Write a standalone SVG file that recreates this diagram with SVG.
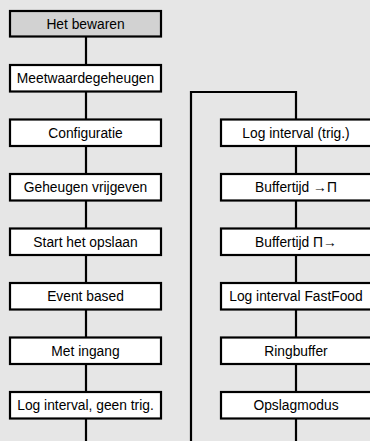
<svg xmlns="http://www.w3.org/2000/svg" width="370" height="441" viewBox="0 0 370 441">
<style>
.n rect{fill:#fff;stroke:#000;stroke-width:2.2}
.n text{font-family:"Liberation Sans",Arial,sans-serif;font-size:13.8px;text-anchor:middle;fill:#000}
.c path{fill:none;stroke:#000;stroke-width:2.2}
</style>
<rect width="370" height="441" fill="#e6e6e6"/>
<g class="c" id="connectors">
<path d="M86 37 V441"/>
<path d="M191 441 V92 H296 V441"/>
</g>
<g class="n" id="n1"><rect x="10" y="11" width="151" height="25.5" style="fill:#d2d2d2"/><text x="85.5" y="28.8">Het bewaren</text></g>
<g class="n" id="n2"><rect x="10" y="65" width="151" height="26.5"/><text x="85.5" y="83.3">Meetwaardegeheugen</text></g>
<g class="n" id="n3"><rect x="10" y="119.5" width="151" height="26.5"/><text x="85.5" y="137.8">Configuratie</text></g>
<g class="n" id="n4"><rect x="10" y="174" width="151" height="26.5"/><text x="85.5" y="192.3">Geheugen vrijgeven</text></g>
<g class="n" id="n5"><rect x="10" y="228.5" width="151" height="26.5"/><text x="85.5" y="246.8">Start het opslaan</text></g>
<g class="n" id="n6"><rect x="10" y="283" width="151" height="26.5"/><text x="85.5" y="301.3">Event based</text></g>
<g class="n" id="n7"><rect x="10" y="337.5" width="151" height="26.5"/><text x="85.5" y="355.8">Met ingang</text></g>
<g class="n" id="n8"><rect x="10" y="392" width="151" height="26.5"/><text x="85.5" y="410.3">Log interval, geen trig.</text></g>
<g class="n" id="r1"><rect x="221" y="119.5" width="152" height="26.5"/><text x="296" y="137.8">Log interval (trig.)</text></g>
<g class="n" id="r2"><rect x="221" y="174" width="152" height="26.5"/><text x="296" y="192.3">Buffertijd →Π</text></g>
<g class="n" id="r3"><rect x="221" y="228.5" width="152" height="26.5"/><text x="296" y="246.8">Buffertijd Π→</text></g>
<g class="n" id="r4"><rect x="221" y="283" width="152" height="26.5"/><text x="296" y="301.3">Log interval FastFood</text></g>
<g class="n" id="r5"><rect x="221" y="337.5" width="152" height="26.5"/><text x="296" y="355.8">Ringbuffer</text></g>
<g class="n" id="r6"><rect x="221" y="392" width="152" height="26.5"/><text x="296" y="410.3">Opslagmodus</text></g>
</svg>
